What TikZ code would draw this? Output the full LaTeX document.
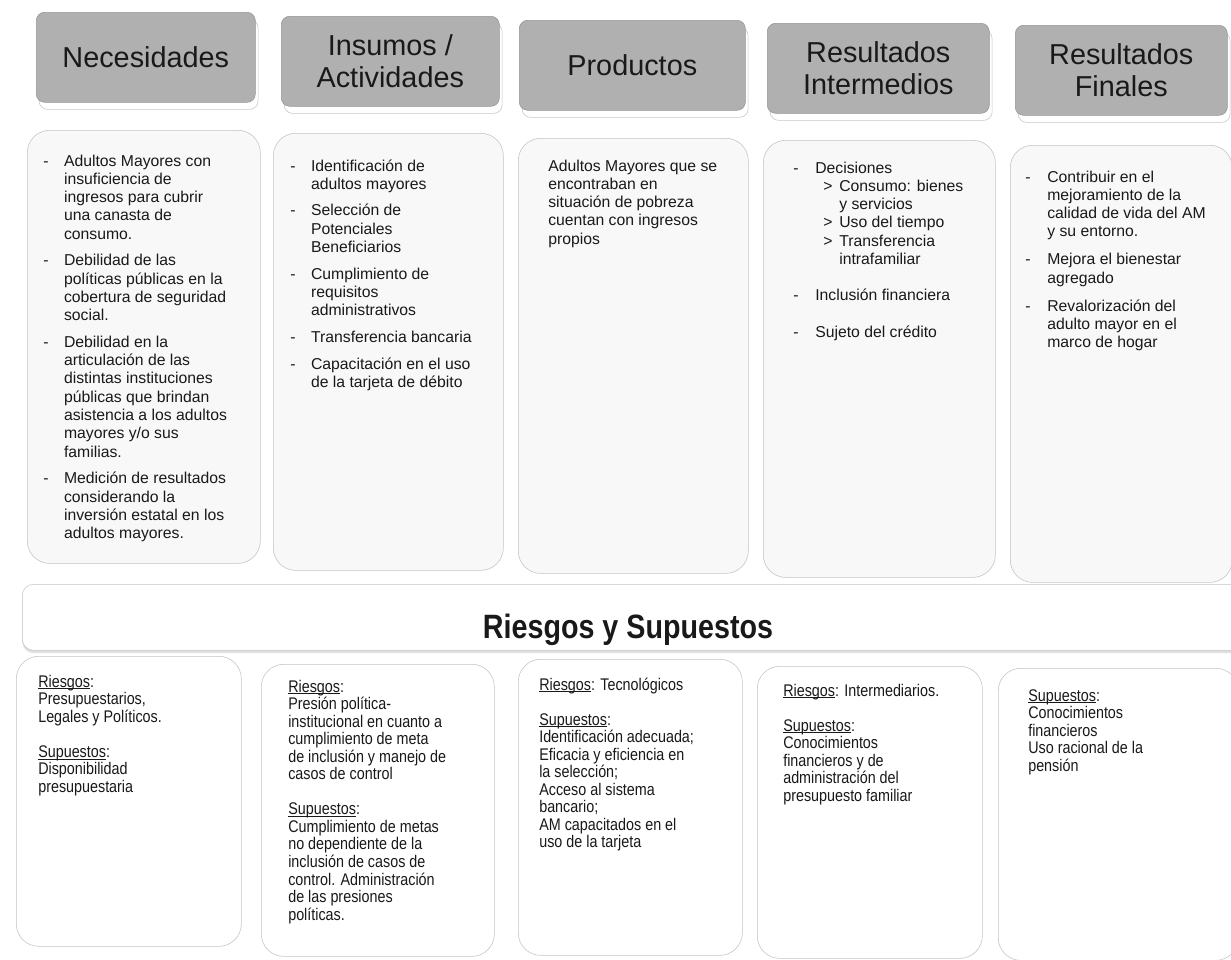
\documentclass[tikz,border=0pt]{standalone}
\usepackage{fontspec}
\setmainfont{Liberation Sans}
\newfontfamily\narrowfont[FakeStretch=0.85]{Liberation Sans}
\usepackage{tikz}
\usetikzlibrary{positioning,shadows}
\usepackage{xcolor}
\definecolor{hdgray}{RGB}{176,176,176}
\definecolor{boxline}{RGB}{196,196,196}
\definecolor{boxfill}{RGB}{248,248,248}
\definecolor{txtdark}{RGB}{25,25,25}
\tikzstyle{header} = [rectangle, rounded corners=6pt, anchor=north west, minimum height=2.25cm, fill=hdgray, draw=hdgray!85!black, align=center, text=txtdark, font=\fontsize{20.5}{22.5}\selectfont, general shadow={fill=white, draw=black!22, shadow xshift=2pt, shadow yshift=-5pt}]
\tikzstyle{column} = [rectangle, rounded corners=16pt, anchor=north west, fill=boxfill, draw=boxline]
\tikzstyle{risk} = [rectangle, rounded corners=16pt, anchor=north west, fill=white, draw=boxline]
\tikzstyle{banner} = [rectangle, rounded corners=8pt, anchor=north west, fill=white, draw=boxline, general shadow={fill=black!12, shadow yshift=-2pt}]
\tikzstyle{bandtitle} = [inner sep=0pt, text=txtdark, font=\narrowfont\bfseries\fontsize{24}{28}\selectfont]
\tikzstyle{listtext} = [anchor=base west, inner sep=0pt, text=txtdark, font=\fontsize{11.2}{13}\selectfont]
\tikzstyle{risktext} = [anchor=base west, inner sep=0pt, text=txtdark, font=\narrowfont\fontsize{12}{12.45}\selectfont]
\newcommand{\subarrow}{\hspace*{0.2cm}\makebox[0.4cm][l]{>}}
\newcommand{\subcont}{\hspace*{0.6cm}}
\newcommand{\undl}[1]{\setbox0\hbox{#1}\rlap{\rule[-1.4pt]{\wd0}{0.45pt}}\box0}

\begin{document}
\begin{tikzpicture}[x=0.025cm, y=-0.025cm]
\path[use as bounding box] (0,0) rectangle (1231,960);
\clip (0,0) rectangle (1231,960);
\fill[white] (0,0) rectangle (1231,960);

% Column headers
\node[header, minimum width=5.475cm] (hNec) at (36,12) {Necesidades};
\node[header, minimum width=5.45cm] (hIns) at (281,16) {Insumos /\\Actividades};
\node[header, minimum width=5.65cm] (hProd) at (519,20) {Productos};
\node[header, minimum width=5.55cm] (hInt) at (767,23) {Resultados\\Intermedios};
\node[header, minimum width=5.3cm] (hFin) at (1015,25) {Resultados\\Finales};

% Column bodies
\node[column, minimum width=5.825cm, minimum height=10.825cm] (cNec) at (27,130) {};
\node[column, minimum width=5.75cm, minimum height=10.925cm] (cIns) at (273,133) {};
\node[column, minimum width=5.75cm, minimum height=10.875cm] (cProd) at (518,138) {};
\node[column, minimum width=5.8cm, minimum height=10.925cm] (cInt) at (763,140) {};
\node[column, minimum width=5.55cm, minimum height=10.925cm] (cFin) at (1010,145) {};

% Column texts
\node[listtext] (tNec) at (43,166) {\begin{tabular}[t]{@{}p{0.52cm}@{}l@{}}
- & Adultos Mayores con\\
  & insuficiencia de\\
  & ingresos para cubrir\\
  & una canasta de\\
  & consumo.\\[6pt]
- & Debilidad de las\\
  & políticas públicas en la\\
  & cobertura de seguridad\\
  & social.\\[6pt]
- & Debilidad en la\\
  & articulación de las\\
  & distintas instituciones\\
  & públicas que brindan\\
  & asistencia a los adultos\\
  & mayores y/o sus\\
  & familias.\\[6pt]
- & Medición de resultados\\
  & considerando la\\
  & inversión estatal en los\\
  & adultos mayores.
\end{tabular}};
\node[listtext] (tIns) at (290,171) {\begin{tabular}[t]{@{}p{0.52cm}@{}l@{}}
- & Identificación de\\
  & adultos mayores\\[6pt]
- & Selección de\\
  & Potenciales\\
  & Beneficiarios\\[6pt]
- & Cumplimiento de\\
  & requisitos\\
  & administrativos\\[6pt]
- & Transferencia bancaria\\[6pt]
- & Capacitación en el uso\\
  & de la tarjeta de débito
\end{tabular}};
\node[listtext] (tProd) at (548,171) {\begin{tabular}[t]{@{}l@{}}
Adultos Mayores que se\\
encontraban en\\
situación de pobreza\\
cuentan con ingresos\\
propios
\end{tabular}};
\node[listtext] (tInt) at (793,173) {\begin{tabular}[t]{@{}p{0.55cm}@{}l@{}}
- & Decisiones\\
  & \subarrow Consumo: bienes\\
  & \subcont y servicios\\
  & \subarrow Uso del tiempo\\
  & \subarrow Transferencia\\
  & \subcont intrafamiliar\\[13pt]
- & Inclusión financiera\\[13pt]
- & Sujeto del crédito
\end{tabular}};
\node[listtext] (tFin) at (1025,182) {\begin{tabular}[t]{@{}p{0.55cm}@{}l@{}}
- & Contribuir en el\\
  & mejoramiento de la\\
  & calidad de vida del AM\\
  & y su entorno.\\[7pt]
- & Mejora el bienestar\\
  & agregado\\[7pt]
- & Revalorización del\\
  & adulto mayor en el\\
  & marco de hogar
\end{tabular}};

% Risks band
\node[banner, minimum width=30.625cm, minimum height=1.65cm] (band) at (22,584) {};
\node[bandtitle] (riesgosTitle) at (628,630) {Riesgos y Supuestos};

% Risk boxes
\node[risk, minimum width=5.625cm, minimum height=7.25cm] (rNec) at (16,656) {};
\node[risk, minimum width=5.825cm, minimum height=7.3cm] (rIns) at (261,664) {};
\node[risk, minimum width=5.6cm, minimum height=7.4cm] (rProd) at (518,659) {};
\node[risk, minimum width=5.625cm, minimum height=7.3cm] (rInt) at (757,666) {};
\node[risk, minimum width=6cm, minimum height=7.3cm] (rFin) at (998,668) {};

% Risk texts
\node[risktext] (sNec) at (38,687) {\begin{tabular}[t]{@{}l@{}}
\undl{Riesgos}:\\
Presupuestarios,\\
Legales y Políticos.\\
\\
\undl{Supuestos}:\\
Disponibilidad\\
presupuestaria
\end{tabular}};
\node[risktext] (sIns) at (288,692) {\begin{tabular}[t]{@{}l@{}}
\undl{Riesgos}:\\
Presión política-\\
institucional en cuanto a\\
cumplimiento de meta\\
de inclusión y manejo de\\
casos de control\\
\\
\undl{Supuestos}:\\
Cumplimiento de metas\\
no dependiente de la\\
inclusión de casos de\\
control. Administración\\
de las presiones\\
políticas.
\end{tabular}};
\node[risktext] (sProd) at (539,690) {\begin{tabular}[t]{@{}l@{}}
\undl{Riesgos}: Tecnológicos\\
\\
\undl{Supuestos}:\\
Identificación adecuada;\\
Eficacia y eficiencia en\\
la selección;\\
Acceso al sistema\\
bancario;\\
AM capacitados en el\\
uso de la tarjeta
\end{tabular}};
\node[risktext] (sInt) at (783,696) {\begin{tabular}[t]{@{}l@{}}
\undl{Riesgos}: Intermediarios.\\
\\
\undl{Supuestos}:\\
Conocimientos\\
financieros y de\\
administración del\\
presupuesto familiar
\end{tabular}};
\node[risktext] (sFin) at (1028,701) {\begin{tabular}[t]{@{}l@{}}
\undl{Supuestos}:\\
Conocimientos\\
financieros\\
Uso racional de la\\
pensión
\end{tabular}};
\end{tikzpicture}
\end{document}
